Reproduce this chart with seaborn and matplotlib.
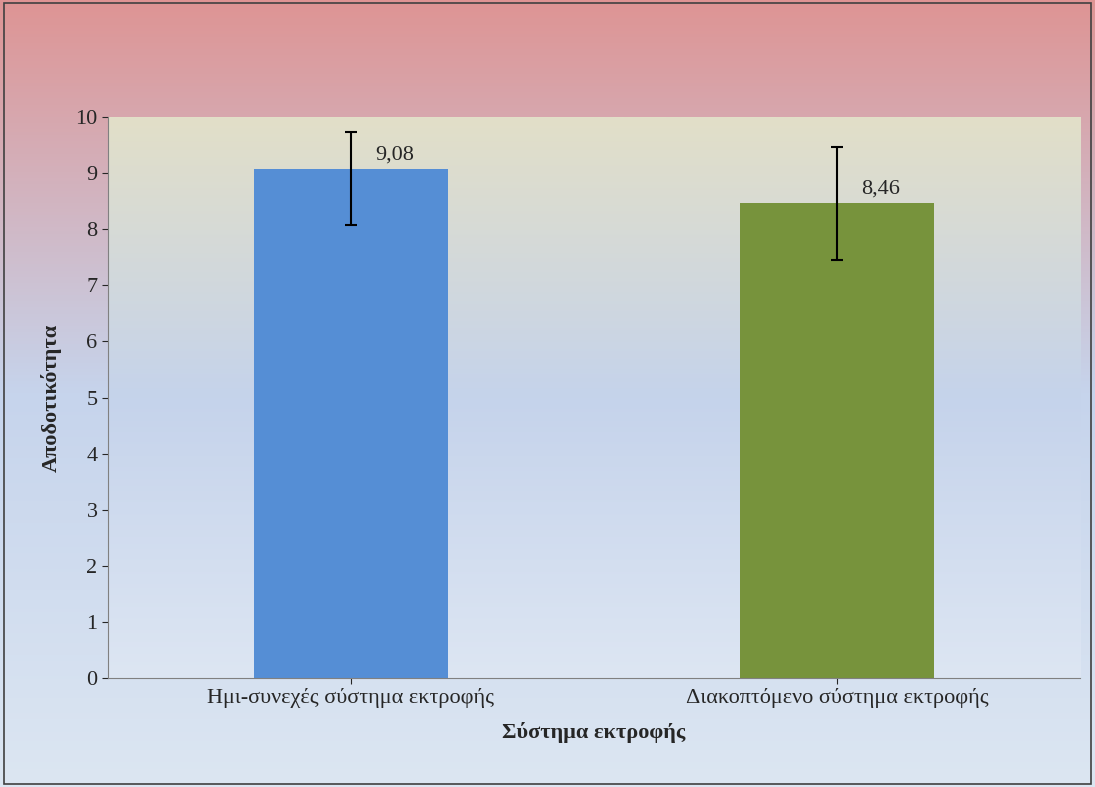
import numpy as np
import pandas as pd
import matplotlib.pyplot as plt
import seaborn as sns
from matplotlib.colors import LinearSegmentedColormap

categories = ['Ημι-συνεχές σύστημα εκτροφής', 'Διακοπτόμενο σύστημα εκτροφής']
values = [9.08, 8.46]
err_low = [1.0, 1.0]
err_high = [0.66, 1.0]
labels = ['9,08', '8,46']
bar_colors = ['#558ED5', '#77933C']

sns.set_style('white')
plt.rcParams['font.family'] = ['Liberation Serif', 'DejaVu Serif']

fig = plt.figure(figsize=(10.95, 7.87), dpi=100)

# figure background gradient
bg = fig.add_axes([0, 0, 1, 1], zorder=-10)
bg_cmap = LinearSegmentedColormap.from_list('bg', ['#DE9494', '#C6D4EC', '#DCE6F2'])
bg.imshow(np.linspace(0, 1, 256).reshape(-1, 1), aspect='auto', cmap=bg_cmap, extent=[0, 1, 0, 1])
bg.set_axis_off()
fig.patches.append(plt.Rectangle((0.004, 0.004), 0.992, 0.992, transform=fig.transFigure,
                                 fill=False, edgecolor='#404040', linewidth=1.2))

ax = fig.add_axes([0.0986, 0.1385, 0.8877, 0.7128])
pa_cmap = LinearSegmentedColormap.from_list('pa', ['#E2DFC8', '#C5D3EB', '#DDE6F3'])
ax.imshow(np.linspace(0, 1, 256).reshape(-1, 1), aspect='auto', cmap=pa_cmap,
          extent=[-0.5, 1.5, 0, 10], zorder=0)

df = pd.DataFrame({'cat': categories, 'val': values})
sns.barplot(data=df, x='cat', y='val', hue='cat', palette=bar_colors, width=0.4,
            saturation=1, linewidth=0, legend=False, ax=ax, zorder=2)
ax.errorbar(range(len(values)), values, yerr=[err_low, err_high], fmt='none', ecolor='black',
            elinewidth=1.5, capsize=4, capthick=1.5, zorder=3)
for i, (v, lab) in enumerate(zip(values, labels)):
    ax.text(i + 0.09, v + 0.08, lab, fontsize=16, ha='center', va='bottom')

ax.set_xlim(-0.5, 1.5)
ax.set_ylim(0, 10)
ax.set_yticks(range(0, 11))
ax.tick_params(axis='both', labelsize=16, length=4, direction='out', left=True, bottom=True)
ax.set_xlabel('Σύστημα εκτροφής', fontsize=16, fontweight='bold', labelpad=10)
ax.set_ylabel('Αποδοτικότητα', fontsize=16, fontweight='bold', labelpad=10)
for s in ['top', 'right']:
    ax.spines[s].set_visible(False)
for s in ['left', 'bottom']:
    ax.spines[s].set_color('#808080')

fig.savefig('out.png', dpi=100)
